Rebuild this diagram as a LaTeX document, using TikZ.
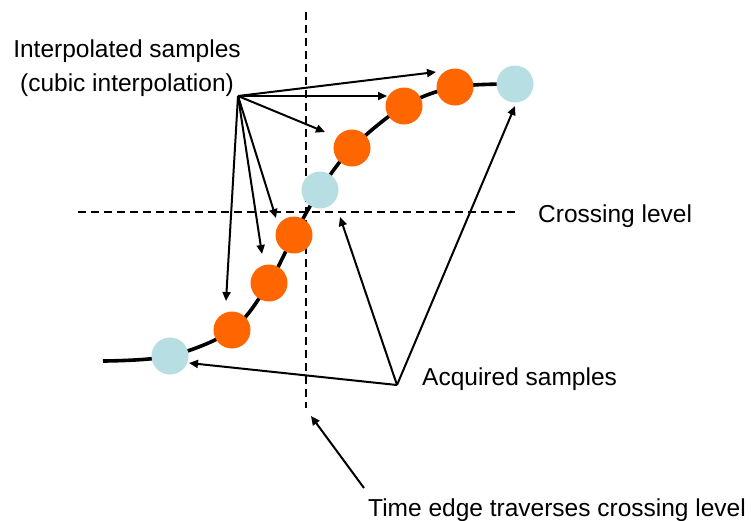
\documentclass[tikz,border=0pt]{standalone}
\usepackage{fontspec}
\setmainfont{Liberation Sans}
\usetikzlibrary{arrows.meta}
\definecolor{sampleorange}{RGB}{255,102,0}
\definecolor{samplecyan}{RGB}{183,222,226}
\tikzset{
  label text/.style={font=\fontsize{24.5}{34}\selectfont, inner sep=0pt, text=black},
  interp dot/.style={circle, fill=sampleorange, minimum size=37pt, inner sep=0pt},
  acq dot/.style={circle, fill=samplecyan, minimum size=37pt, inner sep=0pt},
  guide/.style={line width=2.5pt, dash pattern=on 8pt off 5pt},
  pointer/.style={line width=2pt, -{Triangle[length=9pt,width=8pt]}},
  waveform/.style={line width=3.6pt},
}
\begin{document}
\begin{tikzpicture}[x=1pt, y=-1pt]
  \useasboundingbox (0,0) rectangle (751,520);

  % reference lines: crossing level and crossing time
  \draw[guide] (78,212) -- (518,212);
  \draw[guide] (306,12) -- (306,408);

  % the reconstructed edge
  \draw[waveform] plot[smooth, tension=0.55] coordinates {
    (103,361) (170,356) (232,330) (269,283) (294,235)
    (320,190) (352,148) (404,106) (455,87) (515,84)};

  % acquired samples
  \node[acq dot] (a1) at (170,356) {};
  \node[acq dot] (a2) at (320,190) {};
  \node[acq dot] (a3) at (515,84) {};

  % interpolated samples
  \node[interp dot] (i1) at (232,330) {};
  \node[interp dot] (i2) at (269,283) {};
  \node[interp dot] (i3) at (294,235) {};
  \node[interp dot] (i4) at (352,148) {};
  \node[interp dot] (i5) at (404,106) {};
  \node[interp dot] (i6) at (455,87) {};

  % labels
  \node[label text, anchor=base] (tinterp1) at (127,57) {Interpolated samples};
  \node[label text, anchor=base] (tinterp2) at (127,91) {(cubic interpolation)};
  \node[label text, anchor=base west] (tcross) at (538,222) {Crossing level};
  \node[label text, anchor=base west] (tacq) at (422,385) {Acquired samples};
  \node[label text, anchor=base west] (ttime) at (368,516) {Time edge traverses crossing level};

  % pointer origins and tips
  \coordinate (isrc) at (238,96);
  \coordinate (asrc) at (397,385);
  \coordinate (tsrc) at (364,488);

  \coordinate (pi6) at (436,72);
  \coordinate (pi5) at (387,96);
  \coordinate (pi4) at (325,132);
  \coordinate (pi3) at (276,218);
  \coordinate (pi2) at (262,254);
  \coordinate (pi1) at (226,301);

  \coordinate (pa1) at (189,363);
  \coordinate (pa2) at (340,217);
  \coordinate (pa3) at (515,106);

  \coordinate (ptime) at (311,416);

  % pointers from the labels
  \foreach \t in {pi1,pi2,pi3,pi4,pi5,pi6}
    \draw[pointer] (isrc) -- (\t);
  \foreach \t in {pa1,pa2,pa3}
    \draw[pointer] (asrc) -- (\t);
  \draw[pointer] (tsrc) -- (ptime);
\end{tikzpicture}
\end{document}
